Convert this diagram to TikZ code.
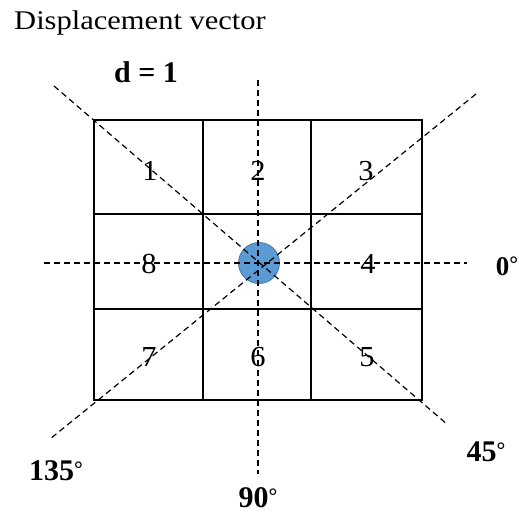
\documentclass[tikz,border=0pt]{standalone}
\usepackage{fontspec}
\setmainfont{Liberation Serif}
\newcommand\degsign{\raisebox{4pt}{\fontsize{22}{22}\selectfont°}}
\begin{document}
\begin{tikzpicture}[x=1pt,y=-1pt,
  gridline/.style={line width=1.5pt,black},
  dirline/.style={line width=1.2pt,black,dash pattern=on 6pt off 4pt},
  num/.style={font=\fontsize{29}{29}\selectfont,inner sep=0pt,xscale=1.05},
  deg/.style={font=\fontsize{30}{30}\selectfont\bfseries,inner sep=0pt,anchor=base},
]
\useasboundingbox (0,0) rectangle (519,513);
% grid
\draw[gridline] (94,120) rectangle (422,400);
\draw[gridline] (203,120) -- (203,400);
\draw[gridline] (311,120) -- (311,400);
\draw[gridline] (94,214) -- (422,214);
\draw[gridline] (94,309) -- (422,309);
% centre point
\node[circle,minimum size=41pt,inner sep=0pt,fill={rgb,255:red,91;green,155;blue,213},draw={rgb,255:red,70;green,120;blue,170},line width=0.8pt] (c) at (259,263) {};
% direction line end points
\coordinate (n) at (258,80);
\coordinate (s) at (258,474);
\coordinate (w) at (44,263);
\coordinate (e) at (467,263);
\coordinate (nw) at (54,86);
\coordinate (se) at (448,425);
\coordinate (ne) at (476,94);
\coordinate (sw) at (50,439);
\draw[dirline] (n) -- (s);
\draw[dirline] (w) -- (e);
\draw[dirline] (nw) -- (se);
\draw[dirline] (ne) -- (sw);
% cell numbers
\node[num] (n1) at (150,171) {1};
\node[num] (n2) at (258,171) {2};
\node[num] (n3) at (366,171) {3};
\node[num] (n8) at (149,264) {8};
\node[num] (n4) at (368,264) {4};
\node[num] (n7) at (149,357) {7};
\node[num] (n6) at (258,357) {6};
\node[num] (n5) at (367,357) {5};
% labels
\node[font=\fontsize{27}{27}\selectfont,inner sep=0pt,anchor=base west,xscale=1.13] (title) at (14,30) {Displacement vector};
\node[deg] (d) at (146,83) {d = 1};
\node[deg,font=\fontsize{27}{27}\selectfont\bfseries] (a0) at (507,275) {0\degsign};
\node[deg] (a45) at (486,461) {45\degsign};
\node[deg] (a135) at (56,480) {135\degsign};
\node[deg] (a90) at (258,507) {90\degsign};
\end{tikzpicture}
\end{document}
